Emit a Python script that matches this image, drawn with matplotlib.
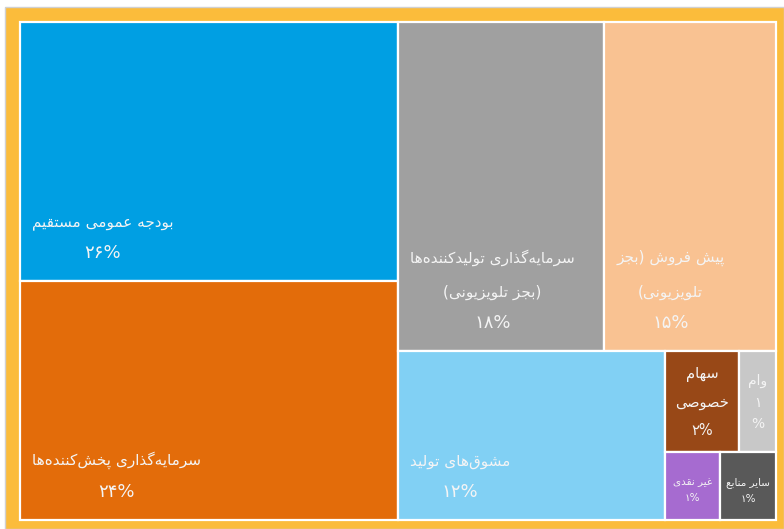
import matplotlib
matplotlib.use('Agg')
import matplotlib.pyplot as plt
import matplotlib.patches as mpatches

FIG_W = 784
FIG_H = 529
DPI = 100
FRAME_COLOUR = '#FBBC3B'
TEXT_COLOUR = '#F4F4F4'

labels = ['بودجه عمومی مستقیم',
          'سرمایه‌گذاری پخش‌کننده‌ها',
          'سرمایه‌گذاری تولیدکننده‌ها\n(بجز تلویزیونی)',
          'پیش فروش (بجز\nتلویزیونی)',
          'مشوق‌های تولید',
          'سهام\nخصوصی',
          'وام',
          'غیر نقدی',
          'سایر منابع']
values = [26, 24, 18, 15, 12, 2, 1, 1, 1]
colours = ['#009FE3', '#E36C0A', '#A0A0A0', '#F9C292', '#81D0F4',
           '#984817', '#C8C8C8', '#A66BD0', '#595959']

# contextual forms: isolated, final, initial, medial (None = joins on the right only)
FORMS = {
    'ا': ('\uFE8D', '\uFE8E', None, None),
    'ب': ('\uFE8F', '\uFE90', '\uFE91', '\uFE92'),
    'پ': ('\uFB56', '\uFB57', '\uFB58', '\uFB59'),
    'ت': ('\uFE95', '\uFE96', '\uFE97', '\uFE98'),
    'ج': ('\uFE9D', '\uFE9E', '\uFE9F', '\uFEA0'),
    'خ': ('\uFEA5', '\uFEA6', '\uFEA7', '\uFEA8'),
    'د': ('\uFEA9', '\uFEAA', None, None),
    'ذ': ('\uFEAB', '\uFEAC', None, None),
    'ر': ('\uFEAD', '\uFEAE', None, None),
    'ز': ('\uFEAF', '\uFEB0', None, None),
    'س': ('\uFEB1', '\uFEB2', '\uFEB3', '\uFEB4'),
    'ش': ('\uFEB5', '\uFEB6', '\uFEB7', '\uFEB8'),
    'ص': ('\uFEB9', '\uFEBA', '\uFEBB', '\uFEBC'),
    'ع': ('\uFEC9', '\uFECA', '\uFECB', '\uFECC'),
    'غ': ('\uFECD', '\uFECE', '\uFECF', '\uFED0'),
    'ف': ('\uFED1', '\uFED2', '\uFED3', '\uFED4'),
    'ق': ('\uFED5', '\uFED6', '\uFED7', '\uFED8'),
    'ک': ('\uFB8E', '\uFB8F', '\uFB90', '\uFB91'),
    'گ': ('\uFB92', '\uFB93', '\uFB94', '\uFB95'),
    'ل': ('\uFEDD', '\uFEDE', '\uFEDF', '\uFEE0'),
    'م': ('\uFEE1', '\uFEE2', '\uFEE3', '\uFEE4'),
    'ن': ('\uFEE5', '\uFEE6', '\uFEE7', '\uFEE8'),
    'ه': ('\uFEE9', '\uFEEA', '\uFEEB', '\uFEEC'),
    'و': ('\uFEED', '\uFEEE', None, None),
    'ی': ('\uFBFC', '\uFBFD', '\uFBFE', '\uFBFF'),
}
MIRROR = {'(': ')', ')': '('}
FA_DIGITS = str.maketrans('0123456789', '۰۱۲۳۴۵۶۷۸۹')


def _shape_line(line):
    out = []
    for i, ch in enumerate(line):
        if ch not in FORMS:
            if ch != '\u200c':
                out.append(ch)
            continue
        prev = line[i - 1] if i > 0 else ''
        nxt = line[i + 1] if i + 1 < len(line) else ''
        join_prev = prev in FORMS and FORMS[prev][2] is not None
        join_next = nxt in FORMS and FORMS[ch][2] is not None
        isol, fin, init, med = FORMS[ch]
        if join_prev and join_next:
            out.append(med)
        elif join_prev:
            out.append(fin)
        elif join_next:
            out.append(init)
        else:
            out.append(isol)
    #matplotlib draws left to right, so flip the visual order
    return ''.join(MIRROR.get(c, c) for c in reversed(out))


def rtl(text):
    return '\n'.join(_shape_line(l) for l in text.split('\n'))


def _aspect(row, short):
    thick = sum(row) / short
    length = row[0] / thick
    return max(thick / length, length / thick)


def treemap_layout(vals, x, y, w, h):
    scale = w * h / float(sum(vals))
    areas = [v * scale for v in vals]
    rects = []
    i = 0
    while i < len(areas):
        short = min(w, h)
        row = [areas[i]]
        j = i + 1
        while j < len(areas) and _aspect(row + [areas[j]], short) <= _aspect(row, short):
            row.append(areas[j])
            j += 1
        thick = sum(row) / short
        if w >= h:
            yy = y
            for a in row:
                rects.append((x, yy, thick, a / thick))
                yy += a / thick
            x += thick
            w -= thick
        else:
            xx = x
            for a in row:
                rects.append((xx, y, a / thick, thick))
                xx += a / thick
            y += thick
            h -= thick
        i = j
    return rects


def main():
    plt.rcParams['font.family'] = ['DejaVu Sans']
    fig = plt.figure(figsize=(FIG_W / DPI, FIG_H / DPI), dpi=DPI)
    fig.patch.set_facecolor('white')
    frame = mpatches.Rectangle((5 / FIG_W, 0), 1 - 5 / FIG_W, 1 - 7 / FIG_H,
                               transform=fig.transFigure, facecolor=FRAME_COLOUR,
                               edgecolor='#D0D0D0', linewidth=1, zorder=-10)
    fig.patches.append(frame)

    area_w, area_h = 756, 498
    ax = fig.add_axes([20 / FIG_W, 9 / FIG_H, area_w / FIG_W, area_h / FIG_H])
    ax.set_xlim(0, area_w)
    ax.set_ylim(area_h, 0)
    ax.axis('off')
    renderer = fig.canvas.get_renderer()

    rects = treemap_layout(values, 0, 0, area_w, area_h)
    for (x, y, w, h), label, value, colour in zip(rects, labels, values, colours):
        ax.add_patch(mpatches.Rectangle((x, y), w, h, facecolor=colour,
                                        edgecolor='white', linewidth=1.6,
                                        clip_on=False))
        pct = str(value).translate(FA_DIGITS)
        if w < 40:
            pct = pct + '\n%'
        else:
            pct = pct + '%'

        if w > 100:
            #big tiles: label block at lower left, percent centred under it
            t = ax.text(x + 12, y + h - 51, rtl(label), ha='left', va='bottom',
                        multialignment='center', color=TEXT_COLOUR, fontsize=11,
                        linespacing=2.5)
            bb = t.get_window_extent(renderer).transformed(ax.transData.inverted())
            cx = (bb.x0 + bb.x1) / 2
            ax.text(cx, y + h - 28, pct, ha='center', va='center',
                    color=TEXT_COLOUR, fontsize=13)
        elif h > 80:
            big = w > 60
            ax.text(x + w / 2, y + h / 2 + 1, rtl(label) + '\n' + pct,
                    ha='center', va='center', multialignment='center',
                    color=TEXT_COLOUR, fontsize=10.5 if big else 10,
                    linespacing=2.1 if big else 1.7)
        else:
            ax.text(x + w / 2, y + h / 2 + 4, rtl(label) + '\n' + pct,
                    ha='center', va='center', multialignment='center',
                    color=TEXT_COLOUR, fontsize=7.5, linespacing=1.75)

    fig.savefig('out.png', dpi=DPI, facecolor='white')


main()
